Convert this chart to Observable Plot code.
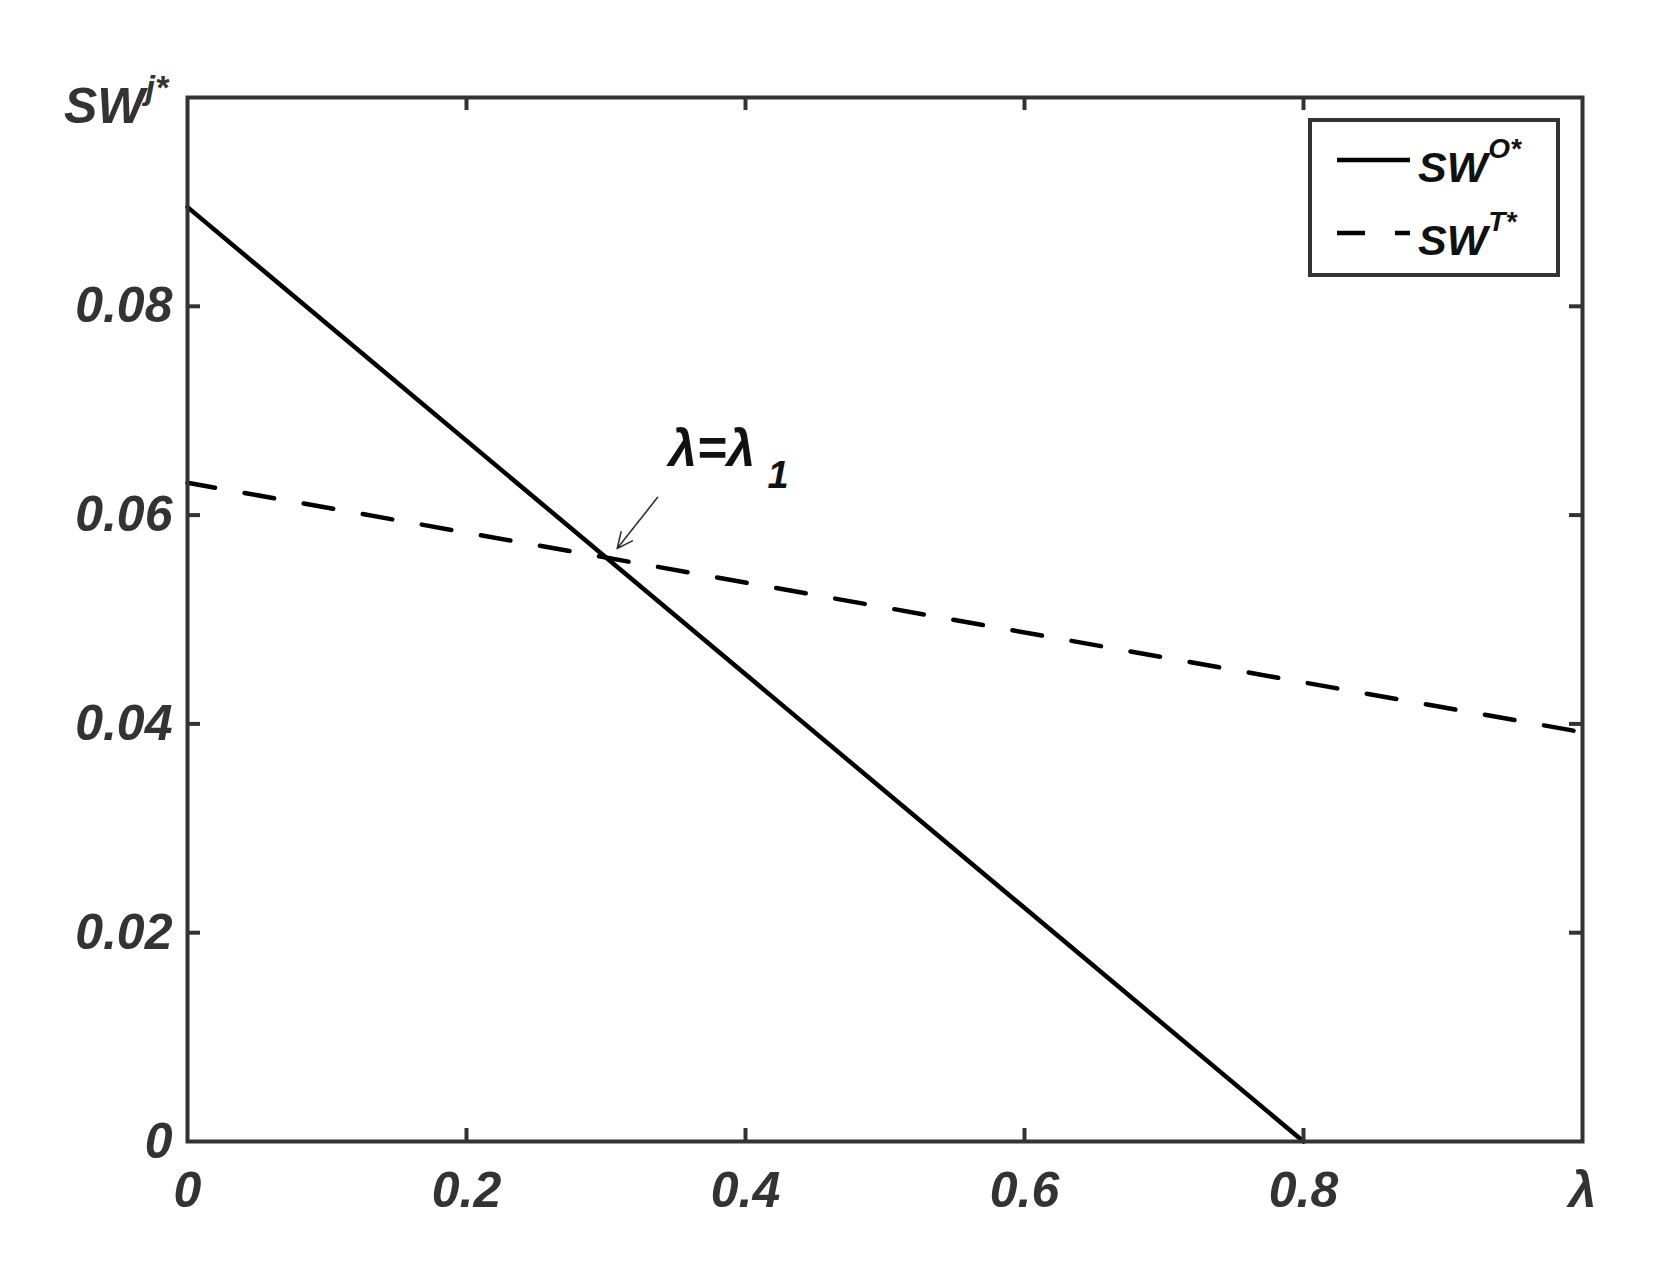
<!DOCTYPE html>
<html>
<head>
<meta charset="utf-8">
<script src="https://cdn.jsdelivr.net/npm/d3@7"></script>
<script src="https://cdn.jsdelivr.net/npm/@observablehq/plot@0.6"></script>
<style>
  html, body { margin: 0; padding: 0; background: #fff; }
</style>
</head>
<body>
<div id="chart"></div>
<script>
// ---- data ----
const lambdaO = [0, 0.8];
const swO = [0.0895, 0];
const lambdaT = [0, 1];
const swT = [0.0631, 0.0392];
const xTicks = [0, 0.2, 0.4, 0.6, 0.8, 1];
const xTickLabels = ["0", "0.2", "0.4", "0.6", "0.8", "λ"];
const yTicks = [0, 0.02, 0.04, 0.06, 0.08];
const yTickLabels = ["0", "0.02", "0.04", "0.06", "0.08"];
const annotLabel = ["λ=λ", "1"];
const annotPos = [[0.3448, 0.06475], [0.4158, 0.06255]];
const arrowFrom = [0.337, 0.0617];
const arrowTo = [0.308, 0.0568];
const legendNames = ["SW", "SW"];
const legendSups = ["O*", "T*"];

// ---- layout ----
const W = 1677, H = 1277;
const mL = 187, mR = 95, mT = 97, mB = 136;
const fw = W - mL - mR, fh = H - mT - mB;
const FONT = "'Liberation Sans', Arial, Helvetica, sans-serif";
const DARK = "#333";

const dataO = lambdaO.map((x, i) => ({x, y: swO[i]}));
const dataT = lambdaT.map((x, i) => ({x, y: swT[i]}));
const innerX = xTicks.filter(d => d > 0 && d < 1);
const innerY = yTicks.filter(d => d > 0 && d < 0.1);
const tickLen = 13;

const svg = Plot.plot({
  width: W, height: H,
  marginLeft: mL, marginRight: mR, marginTop: mT, marginBottom: mB,
  style: {fontFamily: FONT, fontSize: "50px", fontWeight: "bold", fontStyle: "italic", color: DARK, background: "#fff"},
  x: {domain: [0, 1], axis: null},
  y: {domain: [0, 0.1], axis: null},
  marks: [
    Plot.line(dataO, {x: "x", y: "y", stroke: "#000", strokeWidth: 4.5}),
    Plot.line(dataT, {x: "x", y: "y", stroke: "#000", strokeWidth: 4.5, strokeDasharray: "30,30", strokeDashoffset: 2}),
    Plot.arrow([{x1: arrowFrom[0], y1: arrowFrom[1], x2: arrowTo[0], y2: arrowTo[1]}],
      {x1: "x1", y1: "y1", x2: "x2", y2: "y2", stroke: DARK, strokeWidth: 1.6, headLength: 16, headAngle: 50}),
    Plot.text([annotLabel[0]], {x: () => annotPos[0][0], y: () => annotPos[0][1], text: d => d,
      textAnchor: "start", lineAnchor: "bottom", fontSize: 51, fill: "#111"}),
    Plot.text([annotLabel[1]], {x: () => annotPos[1][0], y: () => annotPos[1][1], text: d => d,
      textAnchor: "start", lineAnchor: "bottom", fontSize: 38, fill: "#111"}),
    // inward ticks on all four sides
    Plot.tickX(innerX, {x: d => d, stroke: DARK, strokeWidth: 4, insetTop: fh - tickLen}),
    Plot.tickX(innerX, {x: d => d, stroke: DARK, strokeWidth: 4, insetBottom: fh - tickLen}),
    Plot.tickY(innerY, {y: d => d, stroke: DARK, strokeWidth: 4, insetRight: fw - tickLen}),
    Plot.tickY(innerY, {y: d => d, stroke: DARK, strokeWidth: 4, insetLeft: fw - tickLen}),
    Plot.axisX({ticks: xTicks, tickFormat: d => xTickLabels[xTicks.indexOf(d)], tickSize: 0, tickPadding: 30, fill: DARK}),
    Plot.axisY({ticks: yTicks, tickFormat: d => yTickLabels[yTicks.indexOf(d)], tickSize: 0, tickPadding: 15, fill: DARK}),
    Plot.frame({stroke: DARK, strokeWidth: 4})
  ]
});

const s = d3.select(svg);
// y axis label SW^{j*}
const yl = s.append("text")
  .attr("x", 64).attr("y", 123).attr("text-anchor", "start")
  .attr("font-family", FONT).attr("font-size", 50).attr("font-weight", "bold").attr("font-style", "italic")
  .attr("fill", DARK);
yl.append("tspan").text("SW");
yl.append("tspan").attr("dx", 1).attr("dy", -24).attr("font-size", 34).text("j*");

// legend
const lg = s.append("g");
const lx = 1310, ly = 120, lw = 248, lh = 155;
lg.append("rect").attr("x", lx).attr("y", ly).attr("width", lw).attr("height", lh)
  .attr("fill", "#fff").attr("stroke", DARK).attr("stroke-width", 4);
const rows = [{y: 160, dash: null}, {y: 233, dash: "28,30"}];
rows.forEach((r, i) => {
  const ln = lg.append("line").attr("x1", 1337).attr("x2", 1410).attr("y1", r.y).attr("y2", r.y)
    .attr("stroke", "#000").attr("stroke-width", 4.5);
  if (r.dash) ln.attr("stroke-dasharray", r.dash);
  const t = lg.append("text").attr("x", 1418).attr("y", r.y + 22).attr("text-anchor", "start")
    .attr("font-family", FONT).attr("font-size", 43).attr("font-weight", "bold").attr("font-style", "italic")
    .attr("fill", "#111");
  t.append("tspan").text(legendNames[i]);
  t.append("tspan").attr("dx", 1).attr("dy", -24).attr("font-size", 28).text(legendSups[i]);
});

document.getElementById("chart").appendChild(svg);
</script>
</body>
</html>
